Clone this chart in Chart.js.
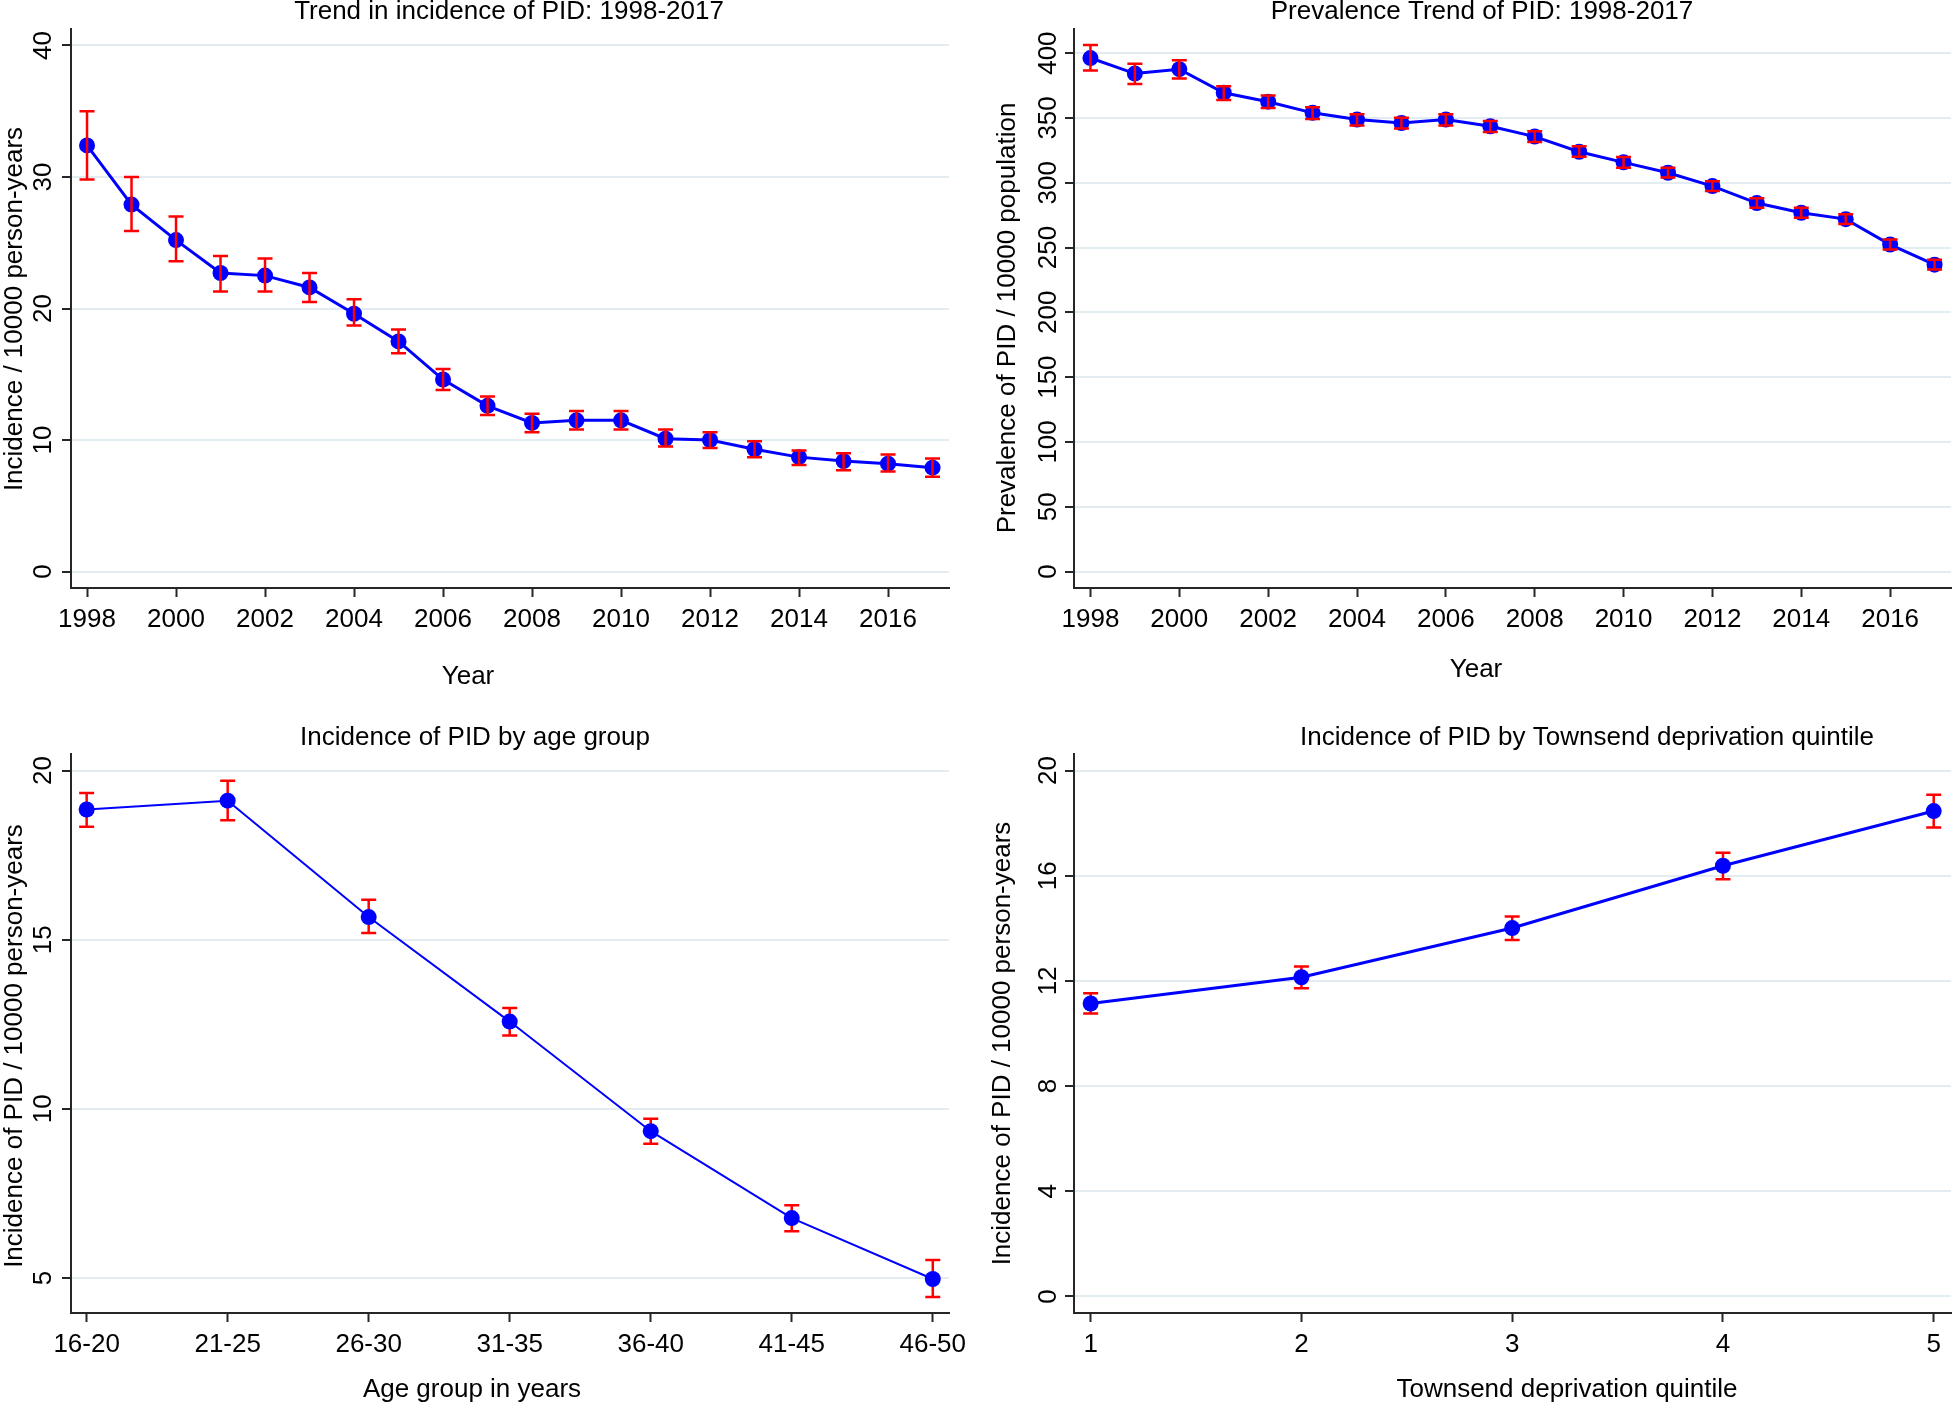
<!DOCTYPE html>
<html>
<head>
<meta charset="utf-8">
<script src="https://cdn.jsdelivr.net/npm/chart.js@4.4.1/dist/chart.umd.min.js"></script>
<style>
  html, body { margin: 0; padding: 0; background: #fff; overflow: hidden; }
  canvas { position: absolute; }
</style>
</head>
<body>
<canvas id="pTrend" width="980" height="700" style="left:0px;top:0px"></canvas>
<canvas id="pPrev" width="979" height="700" style="left:980px;top:0px"></canvas>
<canvas id="pAge" width="980" height="704" style="left:0px;top:700px"></canvas>
<canvas id="pQuint" width="979" height="704" style="left:980px;top:700px"></canvas>
<script>
// data
const years = [1998, 1999, 2000, 2001, 2002, 2003, 2004, 2005, 2006, 2007, 2008, 2009, 2010, 2011, 2012, 2013, 2014, 2015, 2016, 2017];
const incidence     = [32.4, 27.9, 25.2, 22.7, 22.5, 21.6, 19.6, 17.5, 14.6, 12.6, 11.3, 11.5, 11.5, 10.1, 10.0, 9.3, 8.7, 8.4, 8.2, 7.9];
const incidenceLow  = [29.8, 25.9, 23.6, 21.3, 21.3, 20.5, 18.7, 16.6, 13.8, 11.9, 10.6, 10.8, 10.8, 9.5, 9.4, 8.7, 8.1, 7.7, 7.6, 7.2];
const incidenceHigh = [35.0, 30.0, 27.0, 24.0, 23.8, 22.7, 20.7, 18.4, 15.4, 13.3, 12.0, 12.2, 12.2, 10.8, 10.6, 9.9, 9.2, 9.0, 8.9, 8.6];

const prevalence     = [396.2, 384.2, 387.6, 369.4, 362.5, 353.9, 348.7, 346.0, 348.7, 343.5, 335.6, 323.9, 315.7, 307.7, 297.4, 284.3, 276.8, 271.9, 252.3, 236.8];
const prevalenceLow  = [386.6, 376.2, 380.4, 363.9, 357.7, 349.1, 344.2, 341.8, 344.2, 339.1, 331.5, 320.1, 311.5, 304.0, 293.6, 280.6, 273.0, 268.2, 248.5, 233.0];
const prevalenceHigh = [406.2, 391.7, 394.5, 374.5, 367.3, 358.3, 352.8, 350.1, 352.8, 347.7, 339.8, 328.1, 319.8, 311.5, 301.2, 288.1, 280.6, 275.7, 256.1, 240.6];

const ageGroups = ['16-20', '21-25', '26-30', '31-35', '36-40', '41-45', '46-50'];
const ageIdx = [0, 1, 2, 3, 4, 5, 6];
const ageIncidence = [18.85, 19.11, 15.67, 12.58, 9.34, 6.77, 4.97];
const ageLow       = [18.34, 18.53, 15.20, 12.17, 8.97, 6.38, 4.44];
const ageHigh      = [19.34, 19.70, 16.18, 12.98, 9.71, 7.15, 5.53];

const quintiles = [1, 2, 3, 4, 5];
const quintIncidence = [11.14, 12.14, 14.01, 16.38, 18.46];
const quintLow       = [10.76, 11.72, 13.56, 15.87, 17.83];
const quintHigh      = [11.53, 12.55, 14.45, 16.87, 19.08];

// tick labels
const yearTicks = [1998, 2000, 2002, 2004, 2006, 2008, 2010, 2012, 2014, 2016];
const incidenceTicks = [0, 10, 20, 30, 40];
const prevalenceTicks = [0, 50, 100, 150, 200, 250, 300, 350, 400];
const ageYTicks = [5, 10, 15, 20];
const quintYTicks = [0, 4, 8, 12, 16, 20];

const FONT = "'Liberation Sans', Arial, Helvetica, sans-serif";
const FONT_SIZE = 26;
const AXIS = '#262626';
const GRID = '#e3ecf0';

function errorBars(xs, lows, highs, front) {
  function draw(chart) {
    const { ctx, scales: { x, y } } = chart;
    ctx.save();
    ctx.strokeStyle = '#ff0000';
    ctx.lineWidth = 2.5;
    for (let i = 0; i < xs.length; i++) {
      const px = x.getPixelForValue(xs[i]);
      const lo = y.getPixelForValue(lows[i]);
      const hi = y.getPixelForValue(highs[i]);
      ctx.beginPath();
      ctx.moveTo(px, lo);
      ctx.lineTo(px, hi);
      ctx.moveTo(px - 7.5, lo);
      ctx.lineTo(px + 7.5, lo);
      ctx.moveTo(px - 7.5, hi);
      ctx.lineTo(px + 7.5, hi);
      ctx.stroke();
    }
    ctx.restore();
  }
  return {
    id: 'errorBars',
    beforeDatasetsDraw(chart) { if (!front) draw(chart); },
    afterDatasetsDraw(chart) { if (front) draw(chart); }
  };
}

// Stata style texts: title, axis titles and rotated y tick labels
function stataText(t) {
  return {
    id: 'stataText',
    afterDraw(chart) {
      const { ctx, scales: { y } } = chart;
      ctx.save();
      ctx.fillStyle = '#000';
      ctx.font = FONT_SIZE + 'px ' + FONT;
      ctx.textAlign = 'center';
      ctx.textBaseline = 'alphabetic';
      ctx.fillText(t.title, t.titleX, t.titleY);
      ctx.fillText(t.xTitle, t.xTitleX, t.xTitleY);

      ctx.save();
      ctx.translate(t.yTitleX, t.yTitleY);
      ctx.rotate(-Math.PI / 2);
      ctx.fillText(t.yTitle, 0, 0);
      ctx.restore();

      y.ticks.forEach(tick => {
        ctx.save();
        ctx.translate(t.yTickX, y.getPixelForValue(tick.value));
        ctx.rotate(-Math.PI / 2);
        ctx.fillText(String(tick.value), 0, 0);
        ctx.restore();
      });
      ctx.restore();
    }
  };
}

function makePanel(id, p) {
  const canvas = document.getElementById(id);
  const W = canvas.width;
  const H = canvas.height;
  const points = p.xs.map((v, i) => ({ x: v, y: p.ys[i] }));

  return new Chart(canvas, {
    type: 'line',
    data: {
      datasets: [{
        data: points,
        borderColor: '#0000ff',
        backgroundColor: '#0000ff',
        borderWidth: p.lineWidth,
        pointRadius: 8,
        pointHoverRadius: 8,
        pointBorderWidth: 0,
        tension: 0
      }]
    },
    options: {
      responsive: false,
      animation: false,
      events: [],
      layout: {
        padding: { left: 0, top: p.area.top, right: W - p.area.right, bottom: 0 }
      },
      scales: {
        x: {
          type: 'linear',
          min: p.xMin,
          max: p.xMax,
          afterBuildTicks: s => { s.ticks = p.xTicks.map(v => ({ value: v })); },
          afterFit: s => { s.height = H - p.area.bottom; s.paddingLeft = 0; s.paddingRight = 0; },
          grid: { display: true, drawOnChartArea: false, tickLength: 9, tickWidth: 2, tickColor: AXIS },
          border: { color: AXIS, width: 2 },
          ticks: {
            color: '#000',
            font: { family: FONT, size: FONT_SIZE },
            padding: 7,
            maxRotation: 0,
            autoSkip: false,
            callback: p.xLabel
          }
        },
        y: {
          type: 'linear',
          min: p.yMin,
          max: p.yMax,
          afterBuildTicks: s => { s.ticks = p.yTicks.map(v => ({ value: v })); },
          afterFit: s => { s.width = p.area.left; s.paddingTop = 0; s.paddingBottom = 0; },
          grid: { color: GRID, lineWidth: 2, tickLength: 9, tickWidth: 2, tickColor: AXIS },
          border: { color: AXIS, width: 2 },
          ticks: { display: false }
        }
      },
      plugins: {
        legend: { display: false },
        tooltip: { enabled: false }
      }
    },
    plugins: [errorBars(p.xs, p.low, p.high, p.barsFront), stataText(p.text)]
  });
}

makePanel('pTrend', {
  xs: years, ys: incidence, low: incidenceLow, high: incidenceHigh, barsFront: true,
  lineWidth: 3,
  area: { left: 71, top: 29, right: 949, bottom: 588 },
  xMin: 1997.64, xMax: 2017.37, xTicks: yearTicks, xLabel: v => String(v),
  yMin: -1.25, yMax: 41.25, yTicks: incidenceTicks,
  text: {
    title: 'Trend in incidence of PID: 1998-2017', titleX: 509, titleY: 19,
    xTitle: 'Year', xTitleX: 468, xTitleY: 684,
    yTitle: 'Incidence / 10000 person-years', yTitleX: 22, yTitleY: 309,
    yTickX: 51
  }
});

makePanel('pPrev', {
  xs: years, ys: prevalence, low: prevalenceLow, high: prevalenceHigh, barsFront: true,
  lineWidth: 3,
  area: { left: 94, top: 29, right: 979, bottom: 588 },
  xMin: 1997.63, xMax: 2017.37, xTicks: yearTicks, xLabel: v => String(v),
  yMin: -12.7, yMax: 418.6, yTicks: prevalenceTicks,
  text: {
    title: 'Prevalence Trend of PID: 1998-2017', titleX: 502, titleY: 19,
    xTitle: 'Year', xTitleX: 496, xTitleY: 677,
    yTitle: 'Prevalence of PID / 10000 population', yTitleX: 35, yTitleY: 318,
    yTickX: 76
  }
});

makePanel('pAge', {
  xs: ageIdx, ys: ageIncidence, low: ageLow, high: ageHigh, barsFront: false,
  lineWidth: 2,
  area: { left: 71, top: 54, right: 949, bottom: 613 },
  xMin: -0.111, xMax: 6.115, xTicks: ageIdx, xLabel: v => ageGroups[v],
  yMin: 3.965, yMax: 20.49, yTicks: ageYTicks,
  text: {
    title: 'Incidence of PID by age group', titleX: 475, titleY: 45,
    xTitle: 'Age group in years', xTitleX: 472, xTitleY: 697,
    yTitle: 'Incidence of PID / 10000 person-years', yTitleX: 22, yTitleY: 346,
    yTickX: 51
  }
});

makePanel('pQuint', {
  xs: quintiles, ys: quintIncidence, low: quintLow, high: quintHigh, barsFront: false,
  lineWidth: 3,
  area: { left: 94, top: 54, right: 979, bottom: 613 },
  xMin: 0.921, xMax: 5.082, xTicks: quintiles, xLabel: v => String(v),
  yMin: -0.63, yMax: 20.63, yTicks: quintYTicks,
  text: {
    title: 'Incidence of PID by Townsend deprivation quintile', titleX: 607, titleY: 45,
    xTitle: 'Townsend deprivation quintile', xTitleX: 587, xTitleY: 697,
    yTitle: 'Incidence of PID / 10000 person-years', yTitleX: 30, yTitleY: 343.5,
    yTickX: 76
  }
});
</script>
</body>
</html>
